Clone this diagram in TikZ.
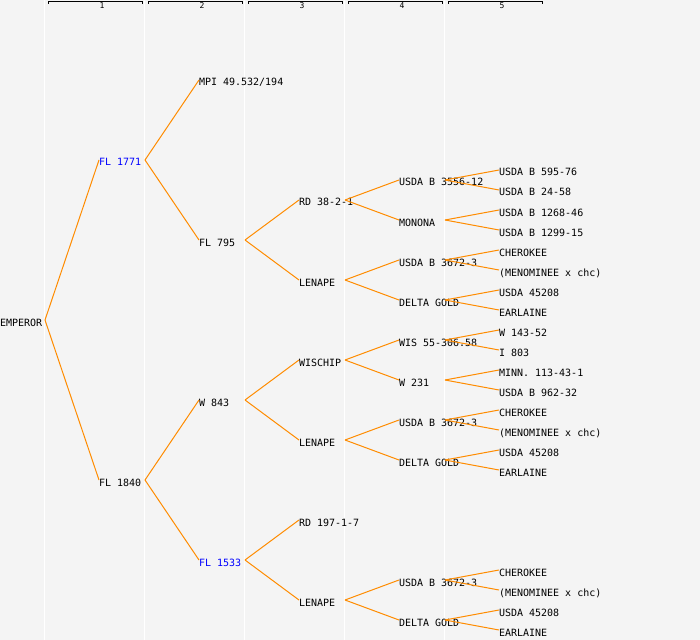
\documentclass[tikz,border=0pt]{standalone}
\usepackage{fontspec}
\newfontfamily\pedfont{DejaVu Sans Mono}
\definecolor{bgc}{HTML}{F4F4F4}
\definecolor{linec}{HTML}{FF8C00}
\definecolor{bluec}{HTML}{0000FF}
\tikzset{
  ped/.style={anchor=west, inner sep=0pt, outer sep=0pt, text height=12bp, text depth=0pt,
    font=\pedfont\fontsize{10bp}{12bp}\selectfont, text=black},
  pedblue/.style={ped, text=bluec},
  link/.style={draw=linec, line width=1bp},
  colline/.style={draw=white, line width=1.5bp},
  hdr/.style={draw=black, line width=1bp},
  hdrlbl/.style={inner sep=0pt, font=\pedfont\fontsize{8bp}{8bp}\selectfont}
}
\newcommand{\kid}[2]{\draw[link] ([xshift=46bp]#1.west) -- (#2.west);}
\begin{document}
\begin{tikzpicture}[x=1bp,y=-1bp]
\useasboundingbox (0,0) rectangle (700,640);
\fill[bgc] (0,0) rectangle (700,640);
\foreach \k in {0,...,4}{
  \draw[colline] ({44.5+100*\k},0) -- ({44.5+100*\k},640);
  \draw[hdr] ({48+100*\k},4) -- ({48+100*\k},1.5) -- ({142.5+100*\k},1.5) -- ({142.5+100*\k},4);
  \pgfmathtruncatemacro{\lab}{\k+1}
  \node[hdrlbl] (h\k) at ({102+100*\k},6) {\lab};
}
% level 0
\node[ped] (a) at (0,320) {EMPEROR};
% level 1
\node[pedblue] (b1) at (99,160) {FL 1771};
\node[ped] (b2) at (99,480) {FL 1840};
% level 2
\node[ped] (c1) at (199,80) {MPI 49.532/194};
\node[ped] (c2) at (199,240) {FL 795};
\node[ped] (c3) at (199,400) {W 843};
\node[pedblue] (c4) at (199,560) {FL 1533};
% level 3
\node[ped] (d1) at (299,200) {RD 38-2-1};
\node[ped] (d2) at (299,280) {LENAPE};
\node[ped] (d3) at (299,360) {WISCHIP};
\node[ped] (d4) at (299,440) {LENAPE};
\node[ped] (d5) at (299,520) {RD 197-1-7};
\node[ped] (d6) at (299,600) {LENAPE};
% level 4
\node[ped] (e1) at (399,180) {USDA B 3556-12};
\node[ped] (e2) at (399,220) {MONONA};
\node[ped] (e3) at (399,260) {USDA B 3672-3};
\node[ped] (e4) at (399,300) {DELTA GOLD};
\node[ped] (e5) at (399,340) {WIS 55-306.58};
\node[ped] (e6) at (399,380) {W 231};
\node[ped] (e7) at (399,420) {USDA B 3672-3};
\node[ped] (e8) at (399,460) {DELTA GOLD};
\node[ped] (e9) at (399,580) {USDA B 3672-3};
\node[ped] (e10) at (399,620) {DELTA GOLD};
% level 5
\node[ped] (f1) at (499,170) {USDA B 595-76};
\node[ped] (f2) at (499,190) {USDA B 24-58};
\node[ped] (f3) at (499,210) {USDA B 1268-46};
\node[ped] (f4) at (499,230) {USDA B 1299-15};
\node[ped] (f5) at (499,250) {CHEROKEE};
\node[ped] (f6) at (499,270) {(MENOMINEE x chc)};
\node[ped] (f7) at (499,290) {USDA 45208};
\node[ped] (f8) at (499,310) {EARLAINE};
\node[ped] (f9) at (499,330) {W 143-52};
\node[ped] (f10) at (499,350) {I 803};
\node[ped] (f11) at (499,370) {MINN. 113-43-1};
\node[ped] (f12) at (499,390) {USDA B 962-32};
\node[ped] (f13) at (499,410) {CHEROKEE};
\node[ped] (f14) at (499,430) {(MENOMINEE x chc)};
\node[ped] (f15) at (499,450) {USDA 45208};
\node[ped] (f16) at (499,470) {EARLAINE};
\node[ped] (f17) at (499,570) {CHEROKEE};
\node[ped] (f18) at (499,590) {(MENOMINEE x chc)};
\node[ped] (f19) at (499,610) {USDA 45208};
\node[ped] (f20) at (499,630) {EARLAINE};
% connectors
\draw[link] ([xshift=45bp]a.west) -- (b1.west);
\draw[link] ([xshift=45bp]a.west) -- (b2.west);
\kid{b1}{c1}\kid{b1}{c2}
\kid{b2}{c3}\kid{b2}{c4}
\kid{c2}{d1}\kid{c2}{d2}
\kid{c3}{d3}\kid{c3}{d4}
\kid{c4}{d5}\kid{c4}{d6}
\kid{d1}{e1}\kid{d1}{e2}
\kid{d2}{e3}\kid{d2}{e4}
\kid{d3}{e5}\kid{d3}{e6}
\kid{d4}{e7}\kid{d4}{e8}
\kid{d6}{e9}\kid{d6}{e10}
\kid{e1}{f1}\kid{e1}{f2}
\kid{e2}{f3}\kid{e2}{f4}
\kid{e3}{f5}\kid{e3}{f6}
\kid{e4}{f7}\kid{e4}{f8}
\kid{e5}{f9}\kid{e5}{f10}
\kid{e6}{f11}\kid{e6}{f12}
\kid{e7}{f13}\kid{e7}{f14}
\kid{e8}{f15}\kid{e8}{f16}
\kid{e9}{f17}\kid{e9}{f18}
\kid{e10}{f19}\kid{e10}{f20}
\end{tikzpicture}
\end{document}
